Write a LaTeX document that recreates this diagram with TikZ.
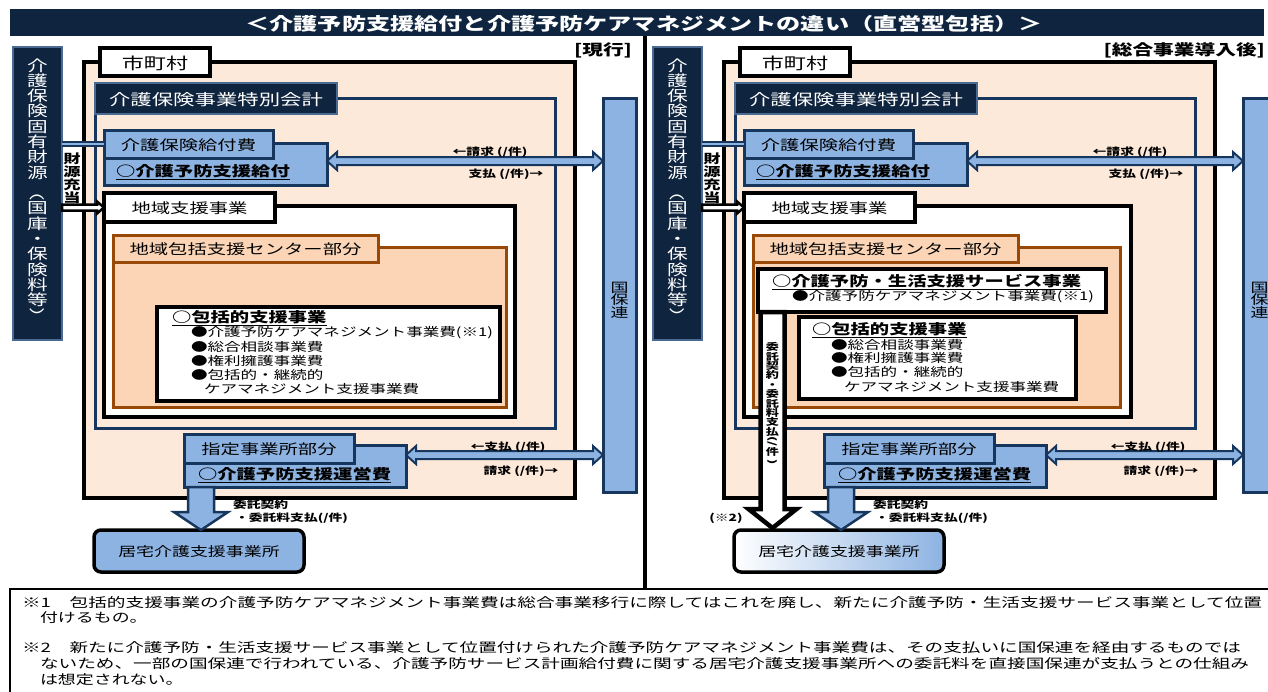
\documentclass[tikz,border=0pt]{standalone}
\usepackage{fontspec}
\setmainfont{Noto Sans CJK JP}[FakeStretch=1.38]
\usepackage{graphicx}
\usetikzlibrary{fit,calc}
\definecolor{navy}{HTML}{0F243E}
\definecolor{navyb}{HTML}{17365D}
\definecolor{navyl}{HTML}{4A6A94}
\definecolor{blueA}{HTML}{8DB3E2}
\definecolor{peach}{HTML}{FDE9D9}
\definecolor{orfill}{HTML}{FBD5B5}
\definecolor{ordraw}{HTML}{984807}
\newcommand\fs[2]{\fontsize{#1}{#2}\selectfont}
\newcommand\vrot[1]{\rotatebox[origin=c]{-90}{#1}}
% horizontal double-headed fat arrow
\newcommand\dblarrowH[3]{%
\filldraw[#3] let \p1=#1, \p2=#2 in
 (\x1,\y1) -- (\x1+10pt,\y1+9pt) -- (\x1+10pt,\y1+4pt) -- (\x2-10pt,\y1+4pt) -- (\x2-10pt,\y1+9pt) -- (\x2,\y1)
 -- (\x2-10pt,\y1-9pt) -- (\x2-10pt,\y1-4pt) -- (\x1+10pt,\y1-4pt) -- (\x1+10pt,\y1-9pt) -- cycle;}
% fat arrow pointing down
\newcommand\fatdown[6]{%
\filldraw[#1] let \p1=#2, \p2=#3 in
 (\x1-#4pt,\y1) -- (\x1-#4pt,\y2+#6pt) -- (\x1-#5pt,\y2+#6pt) -- (\x1,\y2) -- (\x1+#5pt,\y2+#6pt) -- (\x1+#4pt,\y2+#6pt) -- (\x1+#4pt,\y1) -- cycle;}
% fat arrow pointing right
\newcommand\fatright[6]{%
\filldraw[#1] let \p1=#2, \p2=#3 in
 (\x1,\y1+#4pt) -- (\x2-#6pt,\y1+#4pt) -- (\x2-#6pt,\y1+#5pt) -- (\x2,\y1) -- (\x2-#6pt,\y1-#5pt) -- (\x2-#6pt,\y1-#4pt) -- (\x1,\y1-#4pt) -- cycle;}
\tikzset{
 every node/.style={inner sep=0pt, outer sep=0pt},
 outerbox/.style={draw=black, line width=4pt, fill=peach},
 citytab/.style={draw=black, line width=3.5pt, fill=white},
 citytxt/.style={font=\fs{16}{18}, yshift=-1pt},
 navybox/.style={draw=navyb, line width=3pt},
 navytab/.style={draw=navyl, line width=2.5pt, fill=navy},
 navytxt/.style={text=white, font=\fs{15.5}{18}, yshift=-1pt},
 bluebox/.style={draw=navyb, line width=3pt, fill=blueA},
 bluetab/.style={draw=navyb, line width=3pt, fill=blueA},
 whitebox/.style={draw=black, line width=3.5pt, fill=white},
 whitetab/.style={draw=black, line width=3.5pt, fill=white},
 orbox/.style={draw=ordraw, line width=3pt, fill=orfill},
 ortab/.style={draw=ordraw, line width=3pt, fill=orfill},
 tabtxt/.style={font=\fs{14}{16}, yshift=-1pt},
 kokuho/.style={draw=navyb, line width=3pt, fill=blueA},
 kyotaku/.style={draw=black, line width=3.5pt, rounded corners=7pt, fill=blueA},
 kyotxt/.style={font=\fs{13}{15}, yshift=-1pt},
 fatarrow/.style={draw=navyb, line width=2pt, fill=blueA, line join=miter},
 whitearrow/.style={draw=black, line width=2.5pt, fill=white, line join=miter},
 lbl/.style={font=\bfseries\fs{10}{12}},
 headtxt/.style={font=\bfseries\fs{14}{16}},
 itemtxt/.style={font=\fs{12}{14}},
}
\newcommand\panelbase[4]{%
 \node[fit={(13,47)(62,340)}, fill=navy, draw=navyl, line width=2.5pt] (#1bar) {};
 \node[align=center, text=white, font=\fs{15}{15.3}] (#1bartxt) at (#1bar.center)
   {介\\護\\保\\険\\固\\有\\財\\源\\\vrot{（}\\国\\庫\\・\\保\\険\\料\\等\\\vrot{）}};
 \node[align=center, font=\bfseries\fs{12.5}{13}] (#1zaigen) at (72,178) {財\\源\\充\\当};
 \node[outerbox, fit={(84,62)(575,498)}] (#1city) {};
 \node[citytab, fit={(100,48)(210,76)}, label={[citytxt]center:市町村}] (#1cityt) {};
 \node[navybox, fit={(95,98)(555,428)}] (#1acct) {};
 \node[navytab, fit={(95,83)(337,114)}, label={[navytxt]center:介護保険事業特別会計}] (#1acctt) {};
 \node[bluebox, fit={(104,143)(327,185)}] (#1kyufu) {};
 \node[bluetab, fit={(104,130)(273,158)}, label={[tabtxt]center:介護保険給付費}] (#1kyufut) {};
 \node[headtxt, anchor=west] (#1kyufutx) at (116,172) {\underline{○介護予防支援給付}};
 \node[whitebox, fit={(104,206)(#2,417)}] (#1chiiki) {};
 \node[whitetab, fit={(104,193)(275,222)}, label={[tabtxt]center:地域支援事業}] (#1chiikit) {};
 \node[orbox, fit={(113,247)(#3,407)}] (#1center) {};
 \node[ortab, fit={(113,235)(378,262)}, label={[tabtxt]center:地域包括支援センター部分}] (#1centert) {};
 \node[bluebox, fit={(184,445)(406,487)}] (#1shitei) {};
 \node[bluetab, fit={(184,434)(354,463)}, label={[tabtxt]center:指定事業所部分}] (#1shiteit) {};
 \node[headtxt, anchor=west] (#1shiteitx) at (198,475) {\underline{○介護予防支援運営費}};
 \node[kokuho, fit={(603,98)(636,492)}] (#1kokuho) {};
 \node[align=center, font=\fs{13}{12.5}] (#1kokuhotx) at ($(#1kokuho.center)+(0,5)$) {国\\保\\連};
 \node[kyotaku, #4, fit={(94,530)(304,572)}, label={[kyotxt]center:居宅介護支援事業所}] (#1kyotaku) {};
 \draw[draw=navyb, line width=2pt, double=blueA, double distance=2pt] (#1bar.east |- #1kyufut.west) -- (#1kyufut.west);
 \fatright{whitearrow}{(#1bar.east |- #1chiikit.west)}{(#1chiikit.west)}{3}{6}{7}
 \dblarrowH{($(#1kyufu.east)+(0,-3)$)}{(#1kokuho.west)}{fatarrow}
 \dblarrowH{($(#1shitei.east)+(0,-11)$)}{(#1kokuho.west)}{fatarrow}
 \fatdown{fatarrow, line width=2.5pt}{($(#1shitei.south west)+(17,0)$)}{(#1kyotaku.north)}{13}{27}{18}
 \node[lbl] (#1la) at (490,152) {←請求 (/件)};
 \node[lbl] (#1lb) at (506,174) {支払 (/件)→};
 \node[lbl] (#1lc) at (508,447) {←支払 (/件)};
 \node[lbl] (#1ld) at (521,471) {請求 (/件)→};
 \node[lbl, anchor=west] (#1le) at (233,505) {委託契約};
 \node[lbl, anchor=west] (#1lf) at (235,518) {・委託料支払(/件)};
}
\begin{document}
\begin{tikzpicture}[x=1pt,y=-1pt]
\useasboundingbox (0,0) rectangle (1268,691);
\node[fit={(10,9)(1264,36)}, fill=navy] (titlebar) {};
\node[text=white, font=\bfseries\fs{17.5}{20}] (title) at (644,23.5) {＜介護予防支援給付と介護予防ケアマネジメントの違い（直営型包括）＞};
% left panel
\panelbase{L}{515}{506}{}
\node[whitebox, fit={(157,307)(500,401)}] (Lhk) {};
\node[headtxt, anchor=west] (Lhk0) at (172,318) {\underline{○包括的支援事業}};
\node[itemtxt, anchor=west] (Lhk1) at (191,333) {●介護予防ケアマネジメント事業費(※1)};
\node[itemtxt, anchor=west] (Lhk2) at (191,347) {●総合相談事業費};
\node[itemtxt, anchor=west] (Lhk3) at (191,361) {●権利擁護事業費};
\node[itemtxt, anchor=west] (Lhk4) at (191,375) {●包括的・継続的};
\node[itemtxt, anchor=west] (Lhk5) at (204,389) {ケアマネジメント支援事業費};
\node[font=\bfseries\fs{15}{17}, anchor=east] (Lstate) at (632,50) {[現行]};
% right panel
\begin{scope}[xshift=640pt]
\panelbase{R}{491}{480}{left color=white, right color=blueA}
\node[whitebox, fit={(118,269)(466,312)}] (Rsvc) {};
\node[headtxt, anchor=west] (Rsvc0) at (132,282) {\underline{○介護予防・生活支援サービス事業}};
\node[itemtxt, anchor=west] (Rsvc1) at (152,297) {●介護予防ケアマネジメント事業費(※1)};
\node[whitebox, fit={(159,317)(436,399)}] (Rhk) {};
\node[headtxt, anchor=west] (Rhk0) at (172,330) {\underline{○包括的支援事業}};
\node[itemtxt, anchor=west] (Rhk2) at (191,345) {●総合相談事業費};
\node[itemtxt, anchor=west] (Rhk3) at (191,358) {●権利擁護事業費};
\node[itemtxt, anchor=west] (Rhk4) at (191,372) {●包括的・継続的};
\node[itemtxt, anchor=west] (Rhk5) at (204,387) {ケアマネジメント支援事業費};
\fatdown{whitearrow, line width=4.5pt}{($(Rsvc.south west)+(14.5,0)$)}{($(Rkyotaku.north)+(0,-2)$)}{12}{24}{19}
\node[align=center, font=\bfseries\fs{9.5}{9.4}] (Rvtxt) at (132.5,404) {委\\託\\契\\約\\・\\委\\託\\料\\支\\払\\\vrot{(/}\\件\\\vrot{)}};
\node[lbl] (Rnote2) at (86,518) {(※2)};
\node[font=\bfseries\fs{15}{17}, anchor=east] (Rstate) at (625,50) {[総合事業導入後]};
\end{scope}
% divider
\coordinate (divtop) at (645,36);
\coordinate (divbot) at (645,589);
\draw[line width=3.5pt] (divtop) -- (divbot);
% footnotes
\draw[line width=1.5pt] (10,720) -- (10,589) -- (1268,589);
\node[anchor=west] (fn1) at (22,603) {\resizebox{1240pt}{\height}{\fs{13}{15}※1　包括的支援事業の介護予防ケアマネジメント事業費は総合事業移行に際してはこれを廃し、新たに介護予防・生活支援サービス事業として位置}};
\node[anchor=west, font=\fs{13}{15}] (fn1b) at (40,618) {付けるもの。};
\node[anchor=west] (fn2) at (22,648) {\resizebox{1219pt}{\height}{\fs{13}{15}※2　新たに介護予防・生活支援サービス事業として位置付けられた介護予防ケアマネジメント事業費は、その支払いに国保連を経由するものでは}};
\node[anchor=west] (fn2b) at (40,664) {\resizebox{1209pt}{\height}{\fs{13}{15}ないため、一部の国保連で行われている、介護予防サービス計画給付費に関する居宅介護支援事業所への委託料を直接国保連が支払うとの仕組み}};
\node[anchor=west, font=\fs{13}{15}] (fn2c) at (40,680) {は想定されない。};
\end{tikzpicture}
\end{document}
